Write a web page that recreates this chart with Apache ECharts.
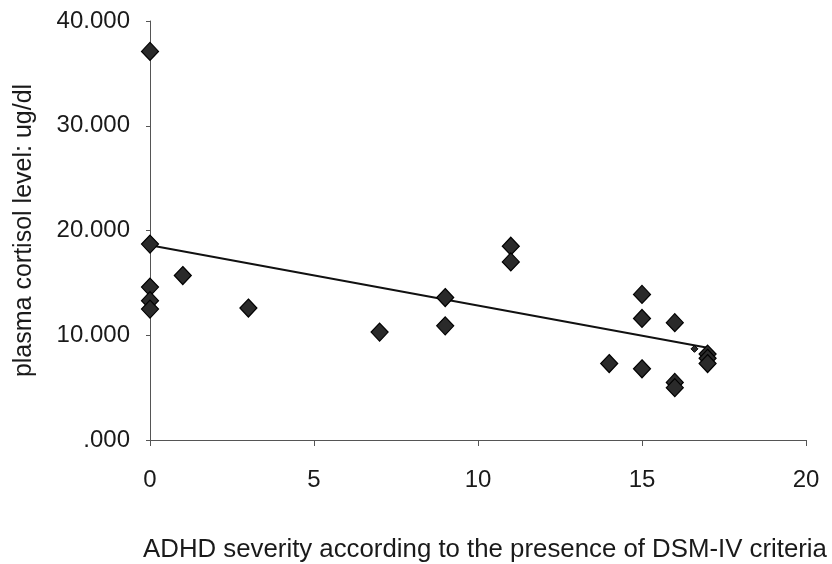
<!DOCTYPE html>
<html>
<head>
<meta charset="utf-8">
<script src="https://cdn.jsdelivr.net/npm/echarts@6/dist/echarts.min.js"></script>
<style>
  html, body { margin: 0; padding: 0; background: #fff; }
  #chart { width: 832px; height: 564px; }
</style>
</head>
<body>
<div id="chart"></div>
<script>
// ADHD severity (number of DSM-IV criteria present) vs plasma cortisol (ug/dl)
const severity = [0, 0, 0, 0, 0, 1, 3, 7, 9, 9, 11, 11, 14, 15, 15, 15, 16, 16, 16, 17, 17, 17];
const cortisol = [37.1, 18.7, 14.6, 13.3, 12.5, 15.7, 12.6, 10.3, 13.6, 10.9, 18.5, 17.0, 7.3, 13.9, 11.6, 6.8, 11.2, 5.5, 5.0, 8.2, 7.8, 7.3];

// Small mark near the end of the trend line
const smallX = [16.6];
const smallY = [8.7];

// Fitted trend line endpoints
const trendX = [0, 17];
const trendY = [18.6, 8.8];

// Axis ticks
const xTicks = [0, 5, 10, 15, 20];
const yTickLabels = ['.000', '10.000', '20.000', '30.000', '40.000'];

const points = severity.map((x, i) => [x, cortisol[i]]);
const smallPoints = smallX.map((x, i) => [x, smallY[i]]);
const trend = trendX.map((x, i) => [x, trendY[i]]);

const chart = echarts.init(document.getElementById('chart'), null, { renderer: 'canvas' });
const font = 'Liberation Sans, Arial, sans-serif';
const axisColor = '#555';
const textColor = '#1a1a1a';

chart.setOption({
  animation: false,
  backgroundColor: '#fff',
  grid: { left: 150, right: 26, top: 21, bottom: 124, containLabel: false, outerBoundsMode: 'none' },
  xAxis: {
    type: 'value',
    min: xTicks[0],
    max: xTicks[xTicks.length - 1],
    interval: 5,
    name: 'ADHD severity according to the presence of DSM-IV criteria',
    nameLocation: 'middle',
    nameGap: 97,
    nameTextStyle: { fontFamily: font, fontSize: 25.8, color: textColor, padding: [0, 0, 0, 14] },
    axisLine: { lineStyle: { color: axisColor, width: 1 } },
    axisTick: { show: true, inside: false, length: 6, lineStyle: { color: axisColor } },
    axisLabel: { fontFamily: font, fontSize: 24, color: textColor, margin: 28 },
    splitLine: { show: false }
  },
  yAxis: {
    type: 'value',
    min: 0,
    max: 40,
    interval: 10,
    name: 'plasma cortisol level: ug/dl',
    nameLocation: 'middle',
    nameGap: 113,
    nameTextStyle: { fontFamily: font, fontSize: 25, color: textColor },
    axisLine: { show: true, lineStyle: { color: axisColor, width: 1 } },
    axisTick: { show: true, length: 4, lineStyle: { color: axisColor } },
    axisLabel: {
      fontFamily: font, fontSize: 24, color: textColor, margin: 20,
      padding: [4, 0, 0, 0],
      formatter: v => yTickLabels[Math.round(v / 10)]
    },
    splitLine: { show: false }
  },
  series: [
    {
      name: 'trend',
      type: 'line',
      data: trend,
      showSymbol: false,
      lineStyle: { color: '#111', width: 2 },
      z: 2
    },
    {
      name: 'cortisol',
      type: 'scatter',
      data: points,
      symbol: 'diamond',
      symbolSize: [17, 18],
      itemStyle: { color: '#2a2a2a', borderColor: '#000', borderWidth: 1.2, opacity: 1 },
      z: 3
    },
    {
      name: 'small',
      type: 'scatter',
      data: smallPoints,
      symbol: 'diamond',
      symbolSize: 7,
      itemStyle: { color: '#2a2a2a', borderColor: '#000', borderWidth: 1, opacity: 1 },
      z: 3
    }
  ]
});
</script>
</body>
</html>
